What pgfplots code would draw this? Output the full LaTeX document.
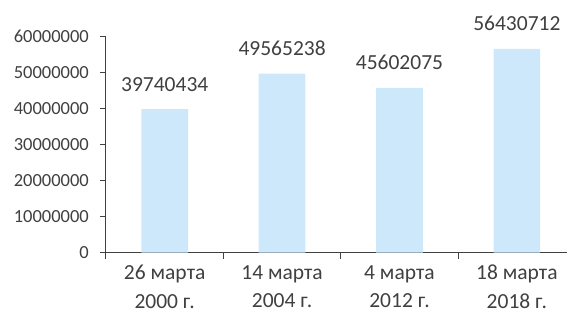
\documentclass[border=0pt]{standalone}
\usepackage{fontspec}
\setmainfont{Carlito}
\usepackage{pgfplots}
\usepackage{pgfplotstable}
\pgfplotsset{compat=1.18}
\definecolor{barc}{RGB}{204,232,250}
\definecolor{txt}{RGB}{64,64,64}
\pgfplotstableread{
x y lab
0 39740434 39740434
1 49565238 49565238
2 45602075 45602075
3 56430712 56430712
}\data
\begin{document}
\begin{tikzpicture}
\begin{axis}[
  name=ax,
  scale only axis, width=461pt, height=216.5pt,
  xmin=-0.5, xmax=3.427, ymin=0, ymax=60000000,
  axis x line*=bottom, axis y line*=left,
  axis line style={draw=txt, line width=1pt},
  tick align=outside, major tick length=6pt,
  tick style={draw=txt, line width=1pt},
  scaled y ticks=false,
  xtick={-0.5,0.5,1.5,2.5}, xticklabels={},
  extra x ticks={0,1,2,3},
  extra x tick labels={{26 марта\\2000 г.},{14 марта\\2004 г.},{4 марта\\2012 г.},{18 марта\\2018 г.}},
  extra x tick style={major tick length=0pt, tick style={draw=none}},
  xticklabel style={align=center, font=\fontsize{21.5}{28.5}\selectfont, text=txt, inner sep=0pt, yshift=-12.5pt},
  ytick={0,10000000,20000000,30000000,40000000,50000000,60000000},
  yticklabels={0,10000000,20000000,30000000,40000000,50000000,60000000},
  yticklabel style={font=\fontsize{18.5}{22}\selectfont, text=txt, inner sep=0pt, xshift=-11pt},
  clip=false,
]
\addplot[ybar, bar width=46.7pt, fill=barc, draw=none,
  nodes near coords, point meta=explicit symbolic,
  nodes near coords style={font=\fontsize{21.5}{26}\selectfont, text=txt, inner sep=0pt, anchor=south, yshift=17.7pt}]
  table[x=x, y=y, meta=lab] {\data};
\end{axis}
\pgfresetboundingbox
\path[use as bounding box] ([xshift=-106pt,yshift=-61.5pt]ax.south west) rectangle ([xshift=461pt,yshift=252.5pt]ax.south west);
\end{tikzpicture}
\end{document}
